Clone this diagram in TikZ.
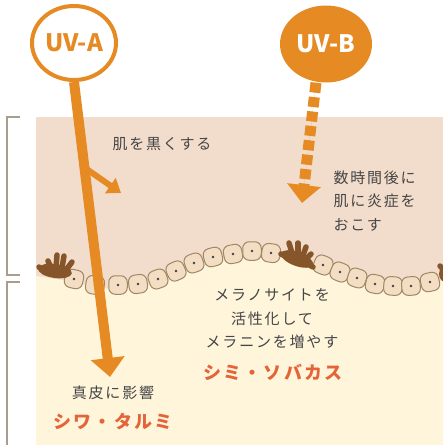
\documentclass[tikz,border=0pt]{standalone}
\usepackage{fontspec}
\newfontfamily\jpfont[LetterSpace=12]{Noto Sans CJK JP}
\newfontfamily\uvfont{Noto Sans CJK JP}
\usepackage{xcolor}
\usetikzlibrary{shapes.geometric}
\usetikzlibrary{arrows.meta}
\usetikzlibrary{calc}

\definecolor{uvorange}{HTML}{E68A24}
\definecolor{epiderm}{HTML}{F2DDCC}
\definecolor{derm}{HTML}{FEF5DB}
\definecolor{cellfill}{HTML}{F3DEC4}
\definecolor{cellline}{HTML}{A08766}
\definecolor{melanin}{HTML}{86552A}
\definecolor{effecttext}{HTML}{E4643A}
\definecolor{notetext}{HTML}{454545}
\definecolor{bracketgray}{HTML}{A79F8B}

\begin{document}
\begin{tikzpicture}[x=1pt, y=-1pt,
  layer/.style={draw=bracketgray, line width=1.2pt},
  cell/.style={rectangle, rounded corners=6.5pt, minimum size=18.5pt, inner sep=0pt, draw=cellline, fill=cellfill, line width=1pt},
  melano/.style={draw=melanin, line width=5.5pt, line cap=round},
  ray/.style={draw=uvorange, fill=uvorange},
  note/.style={text=notetext, font=\jpfont\fontsize{15}{23.5}\selectfont},
  effect/.style={text=effecttext, font=\jpfont\bfseries\fontsize{18}{18}\selectfont}]
  \useasboundingbox (0,0) rectangle (443,445);
  \fill[white] (0,0) rectangle (443,445);

  % epidermis / dermis brackets
  \draw[layer] (20,117) -- (7,117) -- (7,275) -- (20,275);
  \draw[layer] (20,282) -- (7,282) -- (7,446);

  \begin{scope}
    \clip (36,117) rectangle (443,445);
    \fill[epiderm] (36,117) rectangle (443,445);
    \fill[derm] plot[smooth] coordinates {(36,276) (74,282) (95,288) (118,288) (138,287) (158,282) (176,274) (194,266) (213,260) (233,257) (252,254) (271,256) (297,261) (323,268) (340,275) (357,281) (375,287) (393,289) (411,289) (430,285) (443,280)} -- (443,445) -- (36,445) -- cycle;

    % basal cells
    \foreach \x/\y/\a [count=\i] in {74/279/-12, 95/285/-8, 118/285/0, 138/284/8, 158/279/20, 176/271/24, 194/263/20, 213/257/14, 233/254/10, 252/251/0, 271/253/-8, 323/265/-22, 340/272/-22, 357/278/-18, 375/284/-12, 393/286/-4, 411/286/4, 430/282/12} {
      \node[cell, rotate=\a] (c\i) at (\x,\y) {};
      \fill[black!75] (c\i.center) circle (1.4);
    }

    % melanocytes
    \fill[melanin, rotate around={-8:(55,271)}] (55,271) ellipse (17 and 7);
    \draw[melano] (45,272) -- (39,267);
    \draw[melano] (52,270) -- (48,261);
    \draw[melano] (56,268) -- (57,255);
    \draw[melano] (62,268) -- (64,256);
    \draw[melano] (66,270) -- (72,262);

    \fill[melanin, rotate around={-20:(297,259)}] (297,259) ellipse (17 and 7);
    \draw[melano] (290,258) -- (281,254);
    \draw[melano] (293,256) -- (289,243);
    \draw[melano] (298,256) -- (298,243);
    \draw[melano] (302,258) -- (306,247);
    \draw[melano] (305,260) -- (311,254);
    \draw[melano] (306,263) -- (313,267);

    \fill[melanin] (448,274) circle (9);
    \draw[melano] (444,270) -- (440,266);
  \end{scope}

  % UV sources
  \node[ellipse, draw=uvorange, line width=4pt, fill=white, inner sep=0pt, minimum width=84pt, minimum height=74pt, text=uvorange, font=\uvfont\bfseries\fontsize{24}{24}\selectfont] (uva) at (74,43) {UV-A};
  \node[ellipse, fill=uvorange, inner sep=0pt, minimum width=92pt, minimum height=77pt, text=white, font=\uvfont\bfseries\fontsize{24}{24}\selectfont] (uvb) at (326,44) {UV-B};

  \coordinate (uvatip) at (110,377);
  \coordinate (branch) at ($(uva.south)!0.29!(uvatip)$);
  \coordinate (branchtip) at (121,193);
  \coordinate (uvbtip) at (302,203);

  \draw[ray, line width=10pt, -{Triangle[width=33pt,length=19pt]}] (uva.south) -- (uvatip);
  \draw[ray, line width=6pt, -{Triangle[width=18pt,length=13pt]}] (branch) -- (branchtip);
  \draw[ray, line width=11pt, dash pattern=on 10pt off 4.5pt, -{Triangle[width=33pt,length=18pt]}] ([xshift=-10pt]uvb.south) -- (uvbtip);

  % labels
  \node[note] (darken) at (162,144) {肌を黒くする};
  \node[note, align=left, anchor=west] (inflame) at (330,201) {数時間後に\\肌に炎症を\\おこす};
  \node[note, align=center] (activate) at (272,319) {メラノサイトを\\活性化して\\メラニンを増やす};
  \node[effect] (spots) at (273,372) {シミ・ソバカス};
  \node[note] (dermis) at (113,393) {真皮に影響};
  \node[effect] (wrinkle) at (113,422) {シワ・タルミ};
\end{tikzpicture}
\end{document}
